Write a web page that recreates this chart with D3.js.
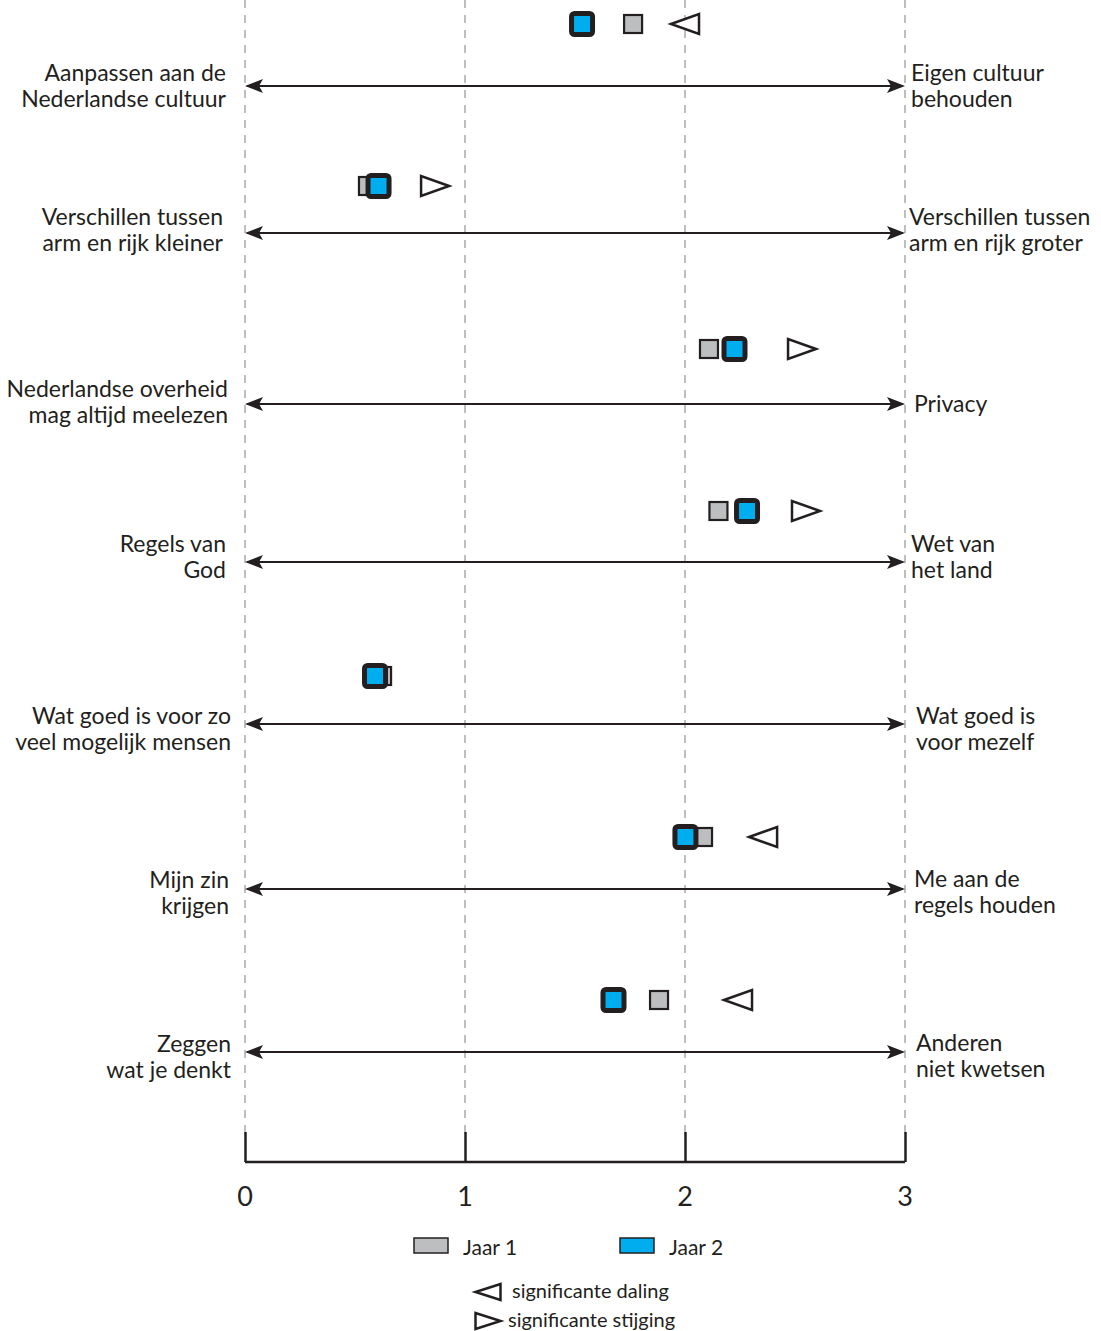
<!DOCTYPE html>
<html><head><meta charset="utf-8">
<script src="https://cdn.jsdelivr.net/npm/d3@7"></script>
<style>body{margin:0;background:#fff}svg{display:block}text{font-family:Lato,"Open Sans",sans-serif;fill:#231f20}</style>
</head><body>
<script>
// ---- data ----
const leftLabels = [
  ["Aanpassen aan de","Nederlandse cultuur"],
  ["Verschillen tussen","arm en rijk kleiner"],
  ["Nederlandse overheid","mag altijd meelezen"],
  ["Regels van","God"],
  ["Wat goed is voor zo","veel mogelijk mensen"],
  ["Mijn zin","krijgen"],
  ["Zeggen","wat je denkt"]
];
const rightLabels = [
  ["Eigen cultuur","behouden"],
  ["Verschillen tussen","arm en rijk groter"],
  ["Privacy"],
  ["Wet van","het land"],
  ["Wat goed is","voor mezelf"],
  ["Me aan de","regels houden"],
  ["Anderen","niet kwetsen"]
];
const jaar1 = [1.764, 0.559, 2.109, 2.152, 0.623, 2.082, 1.882];
const jaar2 = [1.532, 0.607, 2.225, 2.282, 0.591, 2.002, 1.675];
// significance: -1 = daling, 1 = stijging, 0 = none; position of the indicator on the scale
const significance = [-1, 1, 1, 1, 0, -1, -1];
const sigPosition = [2.0, 0.864, 2.532, 2.55, null, 2.355, 2.241];
const tickValues = [0, 1, 2, 3];
const legendSeries = ["Jaar 1", "Jaar 2"];
const legendSig = ["significante daling", "significante stijging"];

// ---- layout ----
const W = 1101, H = 1331;
const arrowY = [86, 233, 404, 562, 724, 889, 1052];
const markerOffset = [62, 47, 55, 51, 48, 52, 52];
const leftMid = [86, 230.5, 402, 557.5, 729, 893, 1057];
const rightMid = [86, 230.5, 404, 557.5, 729, 892.5, 1056.5];
const leftEnd = [226, 223, 228, 226, 231, 229, 231];
const rightStart = [911, 909, 914, 911, 916, 914, 916];
const dark = "#231f20", gray = "#bcbec0", blue = "#00aeef";

const svg = d3.select("body").append("svg").attr("width", W).attr("height", H);
const x = d3.scaleLinear().domain([0, 3]).range([245, 905]);

const defs = svg.append("defs");
defs.append("marker").attr("id","arrEnd").attr("viewBox","-20 -8 22 16")
  .attr("refX",0).attr("refY",0).attr("markerWidth",22).attr("markerHeight",16)
  .attr("markerUnits","userSpaceOnUse").attr("orient","auto")
  .append("path").attr("d","M2,0 L-16,-7 L-12,0 L-16,7 Z").attr("fill",dark);
defs.append("marker").attr("id","arrStart").attr("viewBox","-20 -8 22 16")
  .attr("refX",0).attr("refY",0).attr("markerWidth",22).attr("markerHeight",16)
  .attr("markerUnits","userSpaceOnUse").attr("orient","auto-start-reverse")
  .append("path").attr("d","M2,0 L-16,-7 L-12,0 L-16,7 Z").attr("fill",dark);

// gridlines
svg.append("g").selectAll("line").data(tickValues).join("line")
  .attr("x1", d => x(d)).attr("x2", d => x(d)).attr("y1", 0).attr("y2", 1135)
  .attr("stroke", gray).attr("stroke-width", 2).attr("stroke-dasharray", "8,7");

// bottom axis
const axis = d3.axisTop(x).tickValues(tickValues).tickSize(30).tickFormat("");
const gAxis = svg.append("g").attr("transform", "translate(0,1162)").call(axis);
gAxis.select(".domain").attr("d", `M${x(0)},0H${x(3)}`).attr("stroke", dark).attr("stroke-width", 2.5);
gAxis.selectAll(".tick line").attr("stroke", dark).attr("stroke-width", 2.5);
svg.append("g").selectAll("text").data(tickValues).join("text")
  .attr("x", d => x(d)).attr("y", 1195).attr("text-anchor", "middle")
  .attr("dominant-baseline", "central").attr("font-size", 27).text(d => d);

// triangle helper: dir -1 points left (daling), 1 points right (stijging)
function tri(cx, cy, dir, half, h) {
  return d3.line()([[cx + dir*half, cy], [cx - dir*half, cy - h], [cx - dir*half, cy + h]]) + "Z";
}

// rows
const rows = svg.append("g").selectAll("g").data(jaar1.map((d,i)=>i)).join("g");
rows.append("line")
  .attr("x1", x(0) + 2).attr("x2", x(3) - 2)
  .attr("y1", i => arrowY[i]).attr("y2", i => arrowY[i])
  .attr("stroke", dark).attr("stroke-width", 2)
  .attr("marker-start", "url(#arrStart)").attr("marker-end", "url(#arrEnd)");

rows.each(function(i) {
  const g = d3.select(this);
  const y = arrowY[i];
  const L = leftLabels[i], R = rightLabels[i];
  const offL = L.length === 1 ? 0 : 13;
  g.selectAll("text.l").data(L).join("text").attr("class","l")
    .attr("x", leftEnd[i]).attr("y", (d,k) => leftMid[i] - 1.5 - offL + k*26)
    .attr("text-anchor","end").attr("dominant-baseline","central").attr("font-size",23).text(d=>d);
  const offR = R.length === 1 ? 0 : 13;
  g.selectAll("text.r").data(R).join("text").attr("class","r")
    .attr("x", rightStart[i]).attr("y", (d,k) => rightMid[i] - 1.5 - offR + k*26)
    .attr("text-anchor","start").attr("dominant-baseline","central").attr("font-size",23).text(d=>d);

  const my = y - markerOffset[i];
  // jaar 1 (gray) below
  g.append("rect").attr("x", x(jaar1[i]) - 9).attr("y", my - 9).attr("width", 18).attr("height", 18)
    .attr("fill", gray).attr("stroke", dark).attr("stroke-width", 2.2);
  // jaar 2 (blue) on top
  g.append("rect").attr("x", x(jaar2[i]) - 10.5).attr("y", my - 10.5).attr("width", 21).attr("height", 21)
    .attr("rx", 3).attr("fill", blue).attr("stroke", dark).attr("stroke-width", 5);
  // significance triangle
  if (significance[i] !== 0) {
    g.append("path").attr("d", tri(x(sigPosition[i]), my, significance[i], 14, 10))
      .attr("fill", "#fff").attr("stroke", dark).attr("stroke-width", 2.5);
  }
});

// legend
const leg = svg.append("g");
const legX = [414, 620];
legendSeries.forEach((s, k) => {
  leg.append("rect").attr("x", legX[k]).attr("y", 1238).attr("width", 34).attr("height", 15)
    .attr("fill", k ? blue : gray).attr("stroke", dark).attr("stroke-width", 1.5);
  leg.append("text").attr("x", legX[k] + 49).attr("y", 1246).attr("dominant-baseline","central")
    .attr("font-size", 21).text(s);
});
legendSig.forEach((s, k) => {
  const cy = k ? 1321 : 1292;
  const dir = k ? 1 : -1;
  leg.append("path").attr("d", tri(488, cy, dir, 12.5, 8)).attr("fill","#fff").attr("stroke",dark).attr("stroke-width",2.5);
  leg.append("text").attr("x", k ? 508 : 512).attr("y", cy - 2).attr("dominant-baseline","central")
    .attr("font-size", 20).text(s);
});
</script>
</body></html>
